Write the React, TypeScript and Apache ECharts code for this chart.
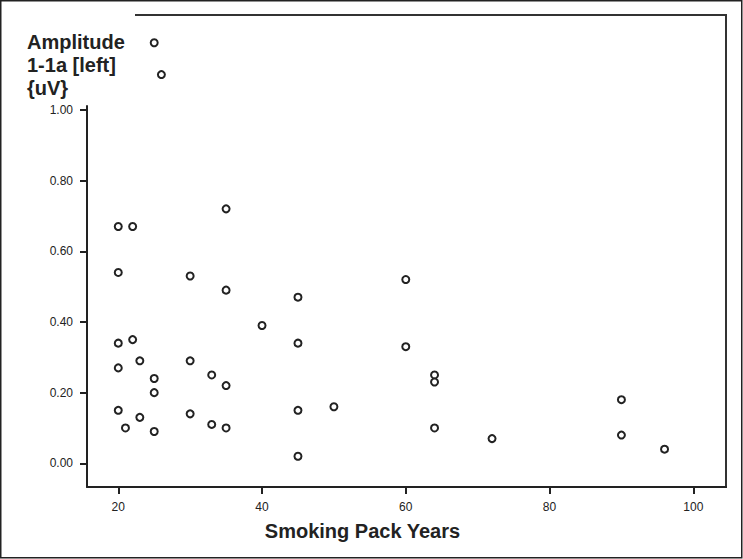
import React, { useEffect, useRef } from "react";
import * as echarts from "echarts";

// Data
const packYears = [
  25, 26, 20, 22, 35, 20, 30, 35, 45, 60, 40, 20, 22, 45, 60, 20, 23, 30, 25, 25,
  33, 35, 64, 64, 90, 50, 20, 23, 30, 45, 21, 25, 33, 35, 64, 90, 72, 96, 45,
];
const amplitude = [
  1.19, 1.10, 0.67, 0.67, 0.72, 0.54, 0.53, 0.49, 0.47, 0.52, 0.39, 0.34, 0.35, 0.34, 0.33, 0.27, 0.29, 0.29, 0.24, 0.20,
  0.25, 0.22, 0.25, 0.23, 0.18, 0.16, 0.15, 0.13, 0.14, 0.15, 0.10, 0.09, 0.11, 0.10, 0.10, 0.08, 0.07, 0.04, 0.02,
];
const xTickValues = [20, 40, 60, 80, 100];
const yTickValues = [0, 0.2, 0.4, 0.6, 0.8, 1.0];
const xTitle = "Smoking Pack Years";
const yTitleLines = ["Amplitude", "1-1a [left]", "{uV}"];

const FONT = "'Liberation Sans', Arial, Helvetica, sans-serif";
const INK = "#222";

export default function App() {
  const ref = useRef<HTMLDivElement>(null);

  useEffect(() => {
    if (!ref.current) return;
    const chart = echarts.init(ref.current, undefined, { renderer: "svg" });
    const points = packYears.map((x, i) => [x, amplitude[i]]);
    chart.setOption({
      animation: false,
      backgroundColor: "#fff",
      textStyle: { fontFamily: FONT },
      grid: { left: 87, right: 17, top: 106, bottom: 72, containLabel: false },
      xAxis: {
        type: "value",
        min: 15.65,
        max: 104.55,
        name: xTitle,
        nameLocation: "middle",
        nameGap: 34,
        nameTextStyle: {
          fontFamily: FONT,
          fontSize: 20,
          fontWeight: "bold",
          color: INK,
          padding: [0, 88, 0, 0],
        },
        splitLine: { show: false },
        axisLine: { show: true, onZero: false, lineStyle: { color: INK, width: 2 } },
        axisTick: {
          show: true,
          length: 7,
          inside: false,
          customValues: xTickValues,
          lineStyle: { color: INK, width: 2 },
        },
        axisLabel: {
          customValues: xTickValues,
          margin: 14,
          fontSize: 12,
          fontFamily: FONT,
          color: INK,
          formatter: (v: number) => String(v),
        },
      },
      yAxis: {
        type: "value",
        min: -0.067,
        max: 1.011,
        splitLine: { show: false },
        axisLine: { show: true, onZero: false, lineStyle: { color: INK, width: 2 } },
        axisTick: {
          show: true,
          length: 7,
          inside: false,
          customValues: yTickValues,
          lineStyle: { color: INK, width: 2 },
        },
        axisLabel: {
          customValues: yTickValues,
          margin: 14,
          fontSize: 12,
          fontFamily: FONT,
          color: INK,
          formatter: (v: number) => v.toFixed(2),
        },
      },
      series: [
        {
          type: "scatter",
          data: points,
          clip: false,
          symbol: "circle",
          symbolSize: 7,
          itemStyle: { color: "#fff", borderColor: INK, borderWidth: 2, opacity: 1 },
          emphasis: { disabled: true },
        },
      ],
      graphic: [
        {
          type: "rect",
          shape: { x: 0.75, y: 0.75, width: 741, height: 557 },
          style: { fill: "none", stroke: INK, lineWidth: 1.5 },
          silent: true,
        },
        {
          type: "line",
          shape: { x1: 135, y1: 15, x2: 727, y2: 15 },
          style: { stroke: "#333", lineWidth: 2 },
          silent: true,
        },
        {
          type: "line",
          shape: { x1: 726, y1: 14, x2: 726, y2: 488 },
          style: { stroke: "#333", lineWidth: 2 },
          silent: true,
        },
        {
          type: "text",
          x: 27,
          y: 30,
          style: {
            text: yTitleLines.join("\n"),
            font: `bold 20px ${FONT}`,
            fill: INK,
            lineHeight: 23,
            textAlign: "left",
            textVerticalAlign: "top",
          },
          silent: true,
        },
      ],
    });
    return () => chart.dispose();
  }, []);

  return (
    <div
      ref={ref}
      style={{ position: "fixed", left: 0, top: 0, width: 743, height: 559, background: "#fff" }}
    />
  );
}
